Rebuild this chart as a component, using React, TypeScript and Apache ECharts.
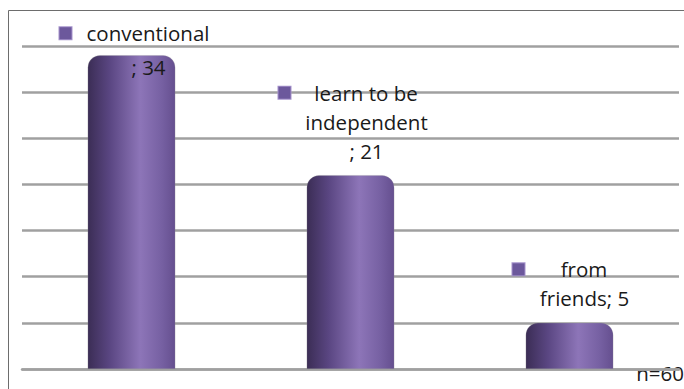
import React, { useEffect, useRef } from "react";
import * as echarts from "echarts";

const categories = ["conventional", "learn to be independent", "from friends"];
const values = [34, 21, 5];
// label text as wrapped in the picture (name part), value appended as "; v"
const wrappedNames = ["conventional\n", "learn to be\nindependent\n", "from\nfriends"];
const yTicks = [0, 5, 10, 15, 20, 25, 30, 35];
const noteText = "n=60";

const FONT = "'Open Sans', 'Liberation Sans', sans-serif";
const FS = 20.5;

const labelWidths = [178, 176, 144];
const labelLineHeights = [34, 29, 29];
const labelOffsets = [[17, 39], [16, 0], [15, 0]];

export default function App() {
  const ref = useRef<HTMLDivElement>(null);
  useEffect(() => {
    if (!ref.current) return;
    const chart = echarts.init(ref.current, undefined, { renderer: "svg" });
    const barColor = new echarts.graphic.LinearGradient(0, 0, 1, 0, [
      { offset: 0, color: "#3b2d55" },
      { offset: 0.25, color: "#5a4682" },
      { offset: 0.6, color: "#8d75b8" },
      { offset: 0.85, color: "#7660a2" },
      { offset: 1, color: "#654f8f" },
    ]);
    const data = values.map((v, i) => {
      const lines = (wrappedNames[i] + "; " + v).split("\n");
      const text = lines
        .map((ln, k) => (k === 0 ? `{ic|}{t|${ln}}{sp|}` : `{t|${ln}}`))
        .join("\n");
      return {
        value: v,
        label: {
          show: true,
          position: "top",
          distance: 10,
          offset: labelOffsets[i],
          width: labelWidths[i],
          align: "center",
          formatter: text,
          rich: {
            t: {
              fontFamily: FONT,
              fontSize: FS,
              color: "#1a1a1a",
              lineHeight: labelLineHeights[i],
              align: "center",
            },
            ic: {
              width: 12,
              height: 12,
              backgroundColor: "#6c589c",
              borderColor: "#a592cc",
              borderWidth: 1,
              align: "left",
              lineHeight: labelLineHeights[i],
            },
            sp: { width: 13, align: "right", lineHeight: labelLineHeights[i] },
          },
        },
      };
    });
    chart.setOption({
      animation: false,
      grid: { left: 22, right: 5, top: 46, bottom: 20 },
      xAxis: {
        type: "category",
        data: categories,
        axisLine: { show: true, lineStyle: { color: "#a0a0a0", width: 2.5 } },
        axisTick: { show: false },
        axisLabel: { show: false },
      },
      yAxis: {
        type: "value",
        min: yTicks[0],
        max: yTicks[yTicks.length - 1],
        interval: yTicks[1] - yTicks[0],
        axisLabel: { show: false },
        axisLine: { show: false },
        axisTick: { show: false },
        splitLine: { lineStyle: { color: "#a0a0a0", width: 2.5 } },
      },
      series: [
        {
          type: "bar",
          data,
          barWidth: "40%",
          itemStyle: {
            color: barColor,
            borderRadius: [12, 12, 0, 0],
            borderColor: "rgba(150,150,150,0.5)",
            borderWidth: 0.5,
          },
        },
      ],
      graphic: [
        {
          type: "rect",
          shape: { x: 8.5, y: 10.5, width: 720, height: 420 },
          style: { fill: "none", stroke: "#6d6d6d", lineWidth: 1 },
          silent: true,
        },
        {
          type: "text",
          right: 0,
          top: 362,
          style: { text: noteText, font: `${FS}px ${FONT}`, fill: "#1a1a1a" },
        },
      ],
    });
    return () => chart.dispose();
  }, []);
  return (
    <div
      ref={ref}
      style={{ position: "fixed", left: 0, top: 0, width: 684, height: 389, background: "#fff" }}
    />
  );
}
